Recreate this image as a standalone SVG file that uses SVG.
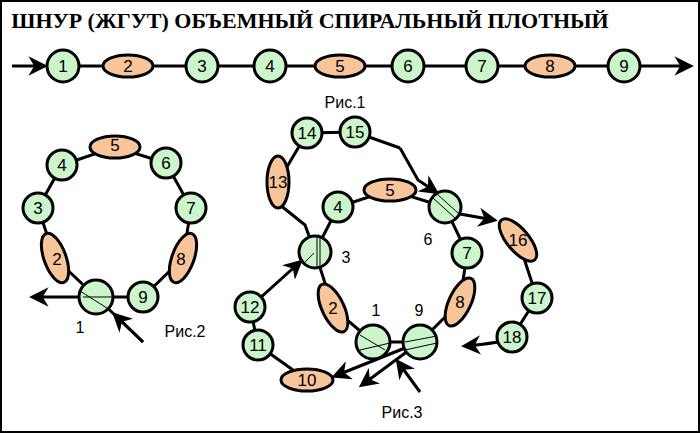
<svg xmlns="http://www.w3.org/2000/svg" width="700" height="433" viewBox="0 0 700 433">
<defs>
<marker id="ah" viewBox="0 0 10 10" refX="8" refY="5" markerWidth="6.5" markerHeight="6.5" orient="auto" markerUnits="strokeWidth"><path d="M0,0 L10,5 L0,10 L3,5 z" fill="#000"/></marker>
<style>
.g{fill:#ccf5cc;stroke:#000;stroke-width:3}
.o{fill:#f8c49a;stroke:#000;stroke-width:3}
.t{font-family:"Liberation Sans",Arial,sans-serif;font-size:17px;text-anchor:middle;dominant-baseline:central;fill:#000}
.c{fill:none;stroke:#000;stroke-width:3}
.a{fill:none;stroke:#000;stroke-width:3;marker-end:url(#ah)}
.x{fill:none;stroke:#000;stroke-width:1}
.l{font-family:"Liberation Sans",Arial,sans-serif;font-size:16px;fill:#000;text-anchor:middle}
</style>
</defs>
<rect x="1" y="1" width="698" height="431" fill="#fff" stroke="#000" stroke-width="2"/>
<text x="310" y="28" font-family="Liberation Serif,serif" font-weight="bold" font-size="22" text-anchor="middle">ШНУР (ЖГУТ) ОБЪЕМНЫЙ СПИРАЛЬНЫЙ ПЛОТНЫЙ</text>
<g id="connectors">
<path class="a" d="M12,66 L44,66"/>
<path class="a" d="M63,66 L690,66"/>
<path class="c" d="M62,165 L38,208 L55,258 L96,297 L143,297 L183,258 L191,208 L166,163 L115,147 L62,165"/>
<path class="a" d="M96,297 L33,297"/>
<path class="a" d="M143,342 L115,315"/>
<path class="c" d="M143,342 L96,297"/>
<path class="c" d="M373,342 L333,308 L315,252 L338,207 L390,190 L445,207 L467,253 L460,302 L420,342 L373,342"/>
<path class="a" d="M420,392 L398,362"/>
<path class="a" d="M420,342 L335,376"/>
<path class="a" d="M420,342 L362,385"/>
<path class="a" d="M498,342 Q480,345 465,346"/>
<path class="c" d="M307,380 L258,345 L250,307"/>
<path class="a" d="M250,307 L300,262"/>
<path class="c" d="M278,182 L278,207"/>
<path class="a" d="M280,205 L305,225 L315,252"/>
<path class="c" d="M278,182 L307,133 L355,132 L400,148"/>
<path class="a" d="M400,148 L418,180 L436,192"/>
<path class="a" d="M445,207 L460,214 L494,220"/>
<path class="c" d="M518,240 L537,298 L512,337"/>
</g>
<g id="row">
<g id="r1"><ellipse class="g" cx="63" cy="66" rx="16" ry="16"/><text class="t" x="63" y="66">1</text></g>
<g id="r2"><ellipse class="o" cx="128" cy="66" rx="25" ry="11"/><text class="t" x="128" y="66">2</text></g>
<g id="r3"><ellipse class="g" cx="202" cy="66" rx="16" ry="16"/><text class="t" x="202" y="66">3</text></g>
<g id="r4"><ellipse class="g" cx="270" cy="66" rx="16" ry="16"/><text class="t" x="270" y="66">4</text></g>
<g id="r5"><ellipse class="o" cx="340" cy="66" rx="25" ry="11"/><text class="t" x="340" y="66">5</text></g>
<g id="r6"><ellipse class="g" cx="408" cy="66" rx="16" ry="16"/><text class="t" x="408" y="66">6</text></g>
<g id="r7"><ellipse class="g" cx="482" cy="66" rx="16" ry="16"/><text class="t" x="482" y="66">7</text></g>
<g id="r8"><ellipse class="o" cx="550" cy="66" rx="25" ry="11"/><text class="t" x="550" y="66">8</text></g>
<g id="r9"><ellipse class="g" cx="624" cy="66" rx="16" ry="16"/><text class="t" x="624" y="66">9</text></g>
</g>
<g id="ring2">
<g id="a5"><ellipse class="o" cx="115" cy="147" rx="25" ry="11"/><text class="t" x="115" y="145">5</text></g>
<g id="a4"><circle class="g" cx="62" cy="165" r="15"/><text class="t" x="62" y="165">4</text></g>
<g id="a6"><circle class="g" cx="166" cy="163" r="15"/><text class="t" x="166" y="163">6</text></g>
<g id="a3"><circle class="g" cx="38" cy="208" r="15"/><text class="t" x="38" y="208">3</text></g>
<g id="a7"><circle class="g" cx="191" cy="208" r="15"/><text class="t" x="191" y="208">7</text></g>
<g id="a2"><ellipse class="o" cx="55" cy="258" rx="11" ry="26" transform="rotate(-20 55 258)"/><text class="t" x="57" y="259">2</text></g>
<g id="a8"><ellipse class="o" cx="183" cy="258" rx="11" ry="26" transform="rotate(20 183 258)"/><text class="t" x="181" y="259">8</text></g>
<g id="a1"><circle class="g" cx="96" cy="297" r="17"/><path class="x" d="M80,291 L110,310 M83,297 L112,297"/></g>
<g id="a9"><circle class="g" cx="143" cy="297" r="15"/><text class="t" x="143" y="297">9</text></g>
<text class="l" x="80" y="333">1</text>
<text class="l" x="185" y="337">Рис.2</text>
</g>
<g id="fig3">
<text class="l" x="345" y="108">Рис.1</text>
<text class="l" x="402" y="418">Рис.3</text>
<g id="b14"><circle class="g" cx="307" cy="133" r="15"/><text class="t" x="307" y="133">14</text></g>
<g id="b15"><circle class="g" cx="355" cy="132" r="15"/><text class="t" x="355" y="132">15</text></g>
<g id="b13"><ellipse class="o" cx="278" cy="182" rx="11" ry="26"/><text class="t" x="278" y="182">13</text></g>
<g id="b4"><circle class="g" cx="338" cy="207" r="15"/><text class="t" x="338" y="207">4</text></g>
<g id="b5"><ellipse class="o" cx="390" cy="190" rx="26" ry="11"/><text class="t" x="390" y="190">5</text></g>
<g id="b6"><circle class="g" cx="445" cy="207" r="16"/><path class="x" d="M433,198 L455,218 M437,194 L458,213"/></g>
<g id="b3"><circle class="g" cx="315" cy="252" r="16"/><path class="x" d="M317,237 L317,267 M320,238 L320,266 M304,263 L314,253"/></g>
<g id="b7"><circle class="g" cx="467" cy="253" r="15"/><text class="t" x="467" y="253">7</text></g>
<g id="b16"><ellipse class="o" cx="518" cy="240" rx="11" ry="26" transform="rotate(-40 518 240)"/><text class="t" x="518" y="240">16</text></g>
<g id="b2"><ellipse class="o" cx="333" cy="308" rx="11" ry="26" transform="rotate(-25 333 308)"/><text class="t" x="333" y="308">2</text></g>
<g id="b8"><ellipse class="o" cx="460" cy="302" rx="11" ry="26" transform="rotate(25 460 302)"/><text class="t" x="460" y="302">8</text></g>
<g id="b12"><circle class="g" cx="250" cy="307" r="15"/><text class="t" x="250" y="307">12</text></g>
<g id="b11"><circle class="g" cx="258" cy="345" r="15"/><text class="t" x="258" y="345">11</text></g>
<g id="b10"><ellipse class="o" cx="307" cy="380" rx="26" ry="11"/><text class="t" x="307" y="380">10</text></g>
<g id="b1"><circle class="g" cx="373" cy="342" r="17"/><path class="x" d="M360,335 L385,350 M360,350 L390,343"/></g>
<g id="b9"><circle class="g" cx="420" cy="342" r="17"/><path class="x" d="M405,342 L437,336 M405,350 L437,343"/></g>
<g id="b17"><circle class="g" cx="537" cy="298" r="15"/><text class="t" x="537" y="298">17</text></g>
<g id="b18"><circle class="g" cx="512" cy="337" r="15"/><text class="t" x="512" y="337">18</text></g>
<text class="l" x="346" y="263">3</text>
<text class="l" x="428" y="245">6</text>
<text class="l" x="376" y="316">1</text>
<text class="l" x="419" y="316">9</text>
</g>
</svg>
